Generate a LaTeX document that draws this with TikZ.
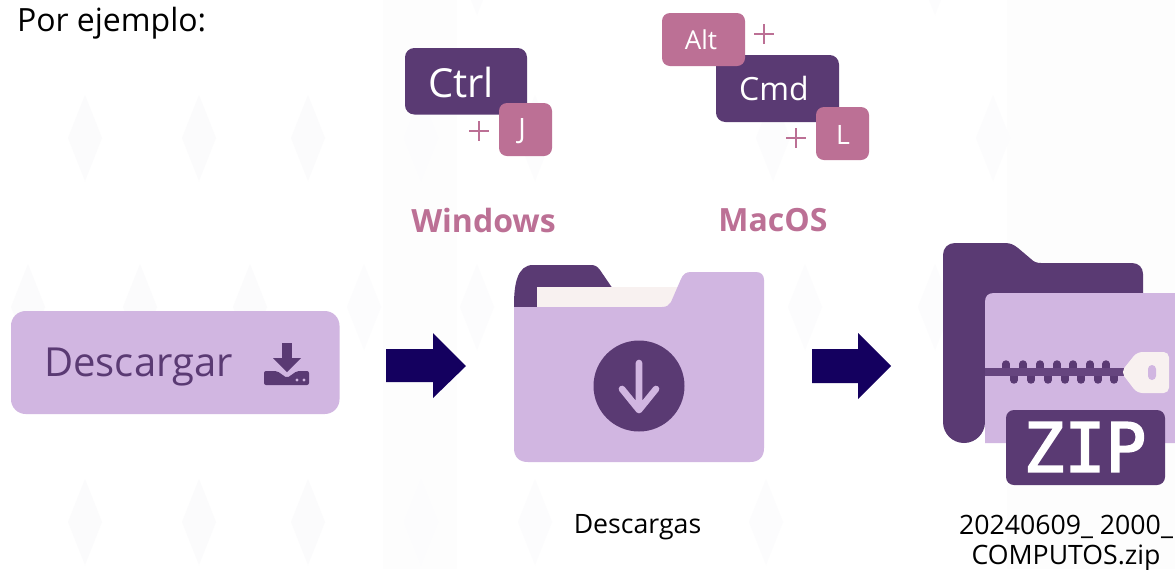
\documentclass[tikz,border=0pt]{standalone}
\usepackage{fontspec}
\setmainfont{Open Sans}
\newfontfamily\zipfont[FakeBold=2.4]{DejaVu Sans Mono}
\definecolor{deep}{HTML}{5A3A73}
\definecolor{lilac}{HTML}{D1B6E1}
\definecolor{rose}{HTML}{BC7095}
\definecolor{cream}{HTML}{F8F1F0}
\definecolor{navy}{HTML}{14005F}
\definecolor{zipper}{HTML}{66457F}
\definecolor{wm}{HTML}{FBFBFC}
\definecolor{wmfaint}{HTML}{FCFCFD}
\definecolor{wash}{HTML}{FDFDFD}
\newcommand{\fs}[2]{\fontsize{#1}{#2}\selectfont}
\tikzset{
  txt/.style={inner sep=0pt,outer sep=0pt,text=black,align=center},
  keytxt/.style={inner sep=0pt,outer sep=0pt,text=white},
  plusmark/.style={draw=rose,line width=2.2pt},
  blockarrow/.style={fill=navy,draw=none},
  ico/.style={fill=deep,draw=none},
}
\newcommand{\dia}[3]{\fill[#1] (#2-17,#3) -- (#2,#3-43) -- (#2+17,#3) -- (#2,#3+43) -- cycle;}
\begin{document}
\begin{tikzpicture}[x=0.75pt,y=-0.75pt]
\useasboundingbox (0,0) rectangle (1175,569);
\clip (0,0) rectangle (1175,569);
\fill[white] (0,0) rectangle (1175,569);
% faint background
\fill[wash] (1007,0) rectangle (1175,569);
\fill[wash] (383,0) rectangle (457,569);
\foreach \xx in {85,199,308} {\dia{wm}{\xx}{138}\dia{wm}{\xx}{522}}
\foreach \xx in {421,535,773,993} {\dia{wmfaint}{\xx}{138}}
\foreach \xx in {421,535,766} {\dia{wmfaint}{\xx}{522}}
\foreach \xx in {28,140,250} {\dia{wm}{\xx}{307}}
\foreach \xx in {364,477,805,935} {\dia{wmfaint}{\xx}{307}}
\foreach \xx in {477,935} {\dia{wmfaint}{\xx}{-28}}

\node[txt,anchor=west,font=\fs{24}{29}] (intro) at (17,23) {Por ejemplo:};

% Windows keys
\fill[deep,rounded corners=7pt] (405,48) rectangle (527,114.5);
\node[keytxt,font=\fs{30}{36}] (ctrl) at (461,82) {Ctrl};
\fill[rose,rounded corners=6pt] (499,103) rectangle (552,156);
\node[keytxt,font=\fs{21}{25}] (jkey) at (522,131) {J};
\draw[plusmark] (469,131) -- (489,131) (479,121) -- (479,141);

% Mac keys
\fill[deep,rounded corners=7pt] (716,55) rectangle (839,122);
\fill[rose,rounded corners=6pt] (662,13) rectangle (745,66);
\node[keytxt,font=\fs{19.5}{24}] (alt) at (701,40) {Alt};
\node[keytxt,font=\fs{24}{29}] (cmd) at (774,88) {Cmd};
\fill[rose,rounded corners=6pt] (816,107) rectangle (869,160);
\node[keytxt,font=\fs{20}{24}] (lkey) at (843,135) {L};
\draw[plusmark] (754,34) -- (774,34) (764,24) -- (764,44);
\draw[plusmark] (786,138) -- (806,138) (796,128) -- (796,148);

\node[txt,text=rose,font=\bfseries\fs{24}{29}] (win) at (483.5,220.5) {Windows};
\node[txt,text=rose,font=\bfseries\fs{24}{29}] (mac) at (773,220.5) {MacOS};

% Button
\fill[lilac,rounded corners=11pt] (11,311) rectangle (339.5,414);
\node[txt,text=deep,font=\fs{30}{36}] (descargar) at (138.5,367) {Descargar};
\fill[ico] (282,343) rectangle (292,358);
\fill[ico] (273,358) -- (301,358) -- (287,372) -- cycle;
\fill[ico,rounded corners=1.5pt] (264,385) -- (264,371) -- (277,371) -- (287,378) -- (297,371) -- (309,371) -- (309,385) -- cycle;
\fill[lilac] (297,380) circle (1.7) (304,380) circle (1.7);

% Arrows
\fill[blockarrow] (386,349) -- (433,349) -- (433,333) -- (466,366) -- (433,398) -- (433,382) -- (386,382) -- cycle;
\fill[blockarrow] (812,349) -- (858,349) -- (858,333) -- (891,366) -- (858,399) -- (858,383) -- (812,383) -- cycle;

% Downloads folder
\fill[ico] (514,312) -- (514,305) .. controls (514,285) and (517,265) .. (533,265)
  -- (590,265) .. controls (595,265) and (597,266) .. (600,270) -- (615,292) -- (537,292) -- (537,312) -- cycle;
\fill[cream] (537,287) rectangle (680,310);
\fill[lilac] (514,307) -- (662,307) .. controls (667,307) and (669,305) .. (671,302)
  -- (681,279) .. controls (683,274) and (686,272) .. (691,272) -- (756,272)
  .. controls (761,272) and (764,275) .. (764,280) -- (764,448)
  .. controls (764,457) and (759,462) .. (750,462) -- (528,462)
  .. controls (519,462) and (514,457) .. (514,448) -- cycle;
\fill[deep] (639,386) circle (45.5);
\draw[lilac,line width=5pt,line cap=round,line join=round] (639,363) -- (639,410) (622,389) -- (639,410) -- (656,389);

% ZIP folder
\fill[ico] (943,423) -- (943,255) .. controls (943,248) and (948,243) .. (955,243)
  -- (1005,243) .. controls (1011,243) and (1014,245) .. (1018,248) -- (1031,259)
  .. controls (1034,262) and (1037,263) .. (1041,263) -- (1132,263)
  .. controls (1139,263) and (1143,268) .. (1143,274) -- (1143,310) -- (985,310) -- (985,422) arc (0:180:21) -- cycle;
\fill[lilac] (985,443) -- (985,302) .. controls (985,296) and (988,293) .. (994,293) -- (1185,293) -- (1185,443) -- cycle;
\foreach \xx in {1006,1023,1040,1057,1073,1090,1106} {
  \draw[deep,line width=5.6pt,line cap=round] (\xx,364) -- (\xx,372);
  \draw[deep,line width=5.6pt,line cap=round] (\xx+8,372) -- (\xx+8,380);
}
\fill[zipper] (985,368) rectangle (1125,376);
\fill[cream,rounded corners=4pt] (1121,372) -- (1137,352) -- (1169,352) -- (1169,393) -- (1137,393) -- cycle;
\fill[lilac,rounded corners=3pt] (1148,365) rectangle (1156,380);
\fill[deep,rounded corners=6pt] (1006,410) rectangle (1165,485);
\node[inner sep=0pt,outer sep=0pt,text=white,font=\zipfont\fs{51}{60}] (zip) at (1085,447) {ZIP};

% Captions
\node[txt,font=\fs{20}{23.2}] (descargas) at (637.5,527) {Descargas};
\node[txt,font=\fs{20}{23.2}] (zipname) at (1066,543) {20240609\_ 2000\_\\COMPUTOS.zip};
\end{tikzpicture}
\end{document}
